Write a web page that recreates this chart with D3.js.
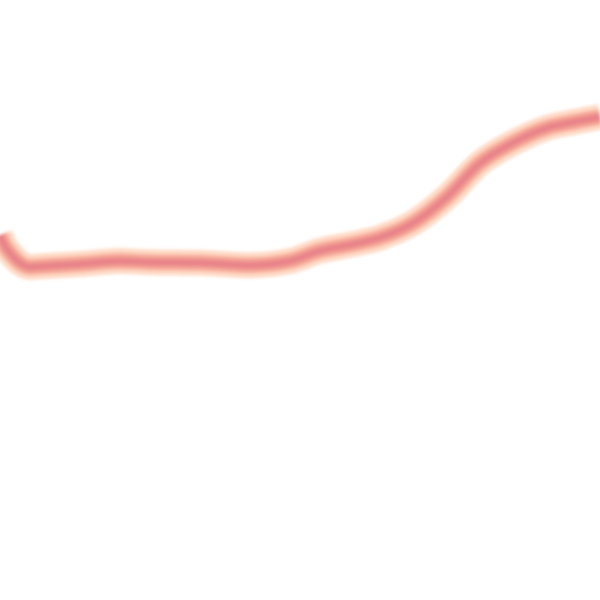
<!DOCTYPE html>
<html>
<head>
<meta charset="utf-8">
<script src="https://cdn.jsdelivr.net/npm/d3@7"></script>
<style>
  html, body { margin: 0; padding: 0; background: #fff; }
</style>
</head>
<body>
<div id="chart"></div>
<script>
// position along the track (0-100) and level (0-100)
var positions = [0, 0.7, 1.7, 3.3, 5, 8.3, 13.3, 20, 25, 33.3, 41.7, 48.3, 53.3, 58.3, 63.3, 68.8, 74.5, 80, 85.5, 91.2, 95.8, 100];
var levels = [60.8, 59.2, 57.8, 56.2, 55.5, 55.7, 56, 56.5, 56.3, 56.2, 55.8, 56.5, 58.2, 59.2, 60.4, 62.8, 67.2, 72.8, 76.2, 78.7, 79.7, 80.5];

var width = 600, height = 600;

var svg = d3.select("#chart")
  .append("svg")
    .attr("width", width)
    .attr("height", height);

var defs = svg.append("defs");
defs.append("filter")
    .attr("id", "soft")
    .attr("x", "-10%").attr("y", "-10%")
    .attr("width", "120%").attr("height", "120%")
  .append("feGaussianBlur")
    .attr("stdDeviation", 1.6);

var x = d3.scaleLinear().domain([0, 100]).range([0, width]);
var y = d3.scaleLinear().domain([0, 100]).range([height, 0]);

var data = positions.map(function(p, i) { return {p: p, v: levels[i]}; });

var line = d3.line()
  .x(function(d) { return x(d.p); })
  .y(function(d) { return y(d.v); })
  .curve(d3.curveMonotoneX);

// soft halo, then body, then core of the line
var layers = [
  {color: "#fedcc8", w: 26},
  {color: "#f9b6a3", w: 17},
  {color: "#f0978f", w: 11},
  {color: "#e8838a", w: 5}
];

svg.append("g")
    .attr("filter", "url(#soft)")
  .selectAll("path")
  .data(layers)
  .enter()
  .append("path")
    .attr("d", line(data))
    .attr("fill", "none")
    .attr("stroke", function(d) { return d.color; })
    .attr("stroke-width", function(d) { return d.w; })
    .attr("stroke-linecap", "butt")
    .attr("stroke-linejoin", "round");
</script>
</body>
</html>
